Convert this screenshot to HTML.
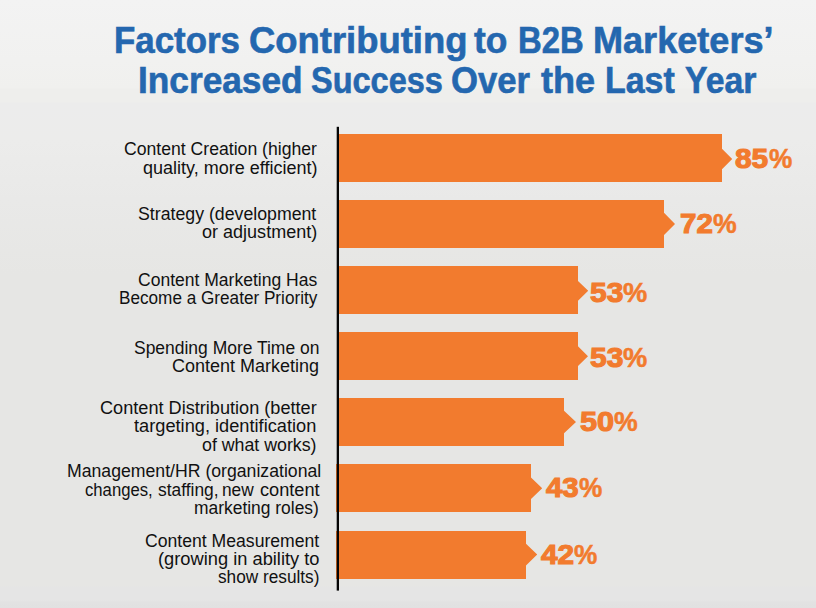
<!DOCTYPE html>
<html><head><meta charset="utf-8"><title>Factors Contributing to B2B Marketers' Increased Success</title>
<style>
html,body{margin:0;padding:0}
body{width:816px;height:608px;overflow:hidden;position:relative;background:#E6E6E4;font-family:"Liberation Sans",sans-serif}
#bg{position:absolute;left:0;top:0;width:816px;height:608px;background:
 linear-gradient(to bottom,#F3F3F3 0px,#F1F1F0 60px,#F0F0EE 88px,#EEEEEC 89px,#EEEEEC 102px,#ECECEC 103px,#ECECEB 140px,#E9E9E8 200px,#E6E6E4 275px,#E6E6E4 586px,#E5E5E5 587px,#E5E5E5 600px,#E2E2E2 602px,#E1E1E1 608px)}
span{position:absolute;white-space:nowrap;line-height:1;transform-origin:0 0}
.t{font:700 36px "Liberation Sans",sans-serif;color:#2467AF;-webkit-text-stroke:0.6px #2467AF;}
.l{font:400 17.5px "Liberation Sans",sans-serif;color:#111;}
.p{font:700 27px "Liberation Sans",sans-serif;color:#F27B2E;-webkit-text-stroke:1.1px #F27B2E;}
.q{font:700 27.6px "Liberation Sans",sans-serif;color:#F27B2E;-webkit-text-stroke:0.5px #F27B2E;}
svg{position:absolute;left:0;top:0}
</style></head><body>
<div id="bg"></div>
<svg width="816" height="608" viewBox="0 0 816 608">
<g fill="#F27B2E">
<path d="M339 134H722V148.65L732.20 158.95L722 169.25V182H339Z"/>
<path d="M339 200H664V212.80L675.00 223.90L664 235.00V248H339Z"/>
<path d="M339 266H578V280.90L588.20 290.80L578 300.70V314H339Z"/>
<path d="M339 332H578V346.30L588.00 356.20L578 366.10V380H339Z"/>
<path d="M339 398H564V410.80L576.00 422.05L564 433.30V446H339Z"/>
<path d="M336 464H531V477.45L542.20 488.20L531 498.95V512H336Z"/>
<path d="M336 531H526V543.75L537.20 554.60L526 565.45V579H336Z"/>
</g>
<rect x="336.7" y="126.8" width="2.3" height="463.8" fill="#050505"/>
</svg>
<span class="t" style="left:114.06px;top:19.55px;transform:scaleX(0.9688)">Factors</span>
<span class="t" style="left:248.54px;top:19.55px;transform:scaleX(1.0118)">Contributing</span>
<span class="t" style="left:474.15px;top:19.55px;transform:scaleX(0.9815)">to</span>
<span class="t" style="left:517.77px;top:19.55px;transform:scaleX(0.9135)">B2B</span>
<span class="t" style="left:593.40px;top:19.55px;transform:scaleX(1.0023)">Marketers&rsquo;</span>
<span class="t" style="left:138.04px;top:59.65px;transform:scaleX(0.9793)">Increased</span>
<span class="t" style="left:310.92px;top:59.65px;transform:scaleX(0.9026)">Success</span>
<span class="t" style="left:450.60px;top:59.65px;transform:scaleX(0.9640)">Over</span>
<span class="t" style="left:540.55px;top:59.65px;transform:scaleX(1.0028)">the</span>
<span class="t" style="left:604.82px;top:59.65px;transform:scaleX(0.9417)">Last</span>
<span class="t" style="left:684.87px;top:59.65px;transform:scaleX(0.9377)">Year</span>
<span class="l" style="left:123.79px;top:138.80px;transform:scaleX(1.0066)">Content Creation (higher</span>
<span class="l" style="left:142.93px;top:157.60px;transform:scaleX(1.0289)">quality, more efficient)</span>
<span class="l" style="left:138.09px;top:203.60px;transform:scaleX(1.0126)">Strategy (development</span>
<span class="l" style="left:202.23px;top:222.00px;transform:scaleX(1.0300)">or adjustment)</span>
<span class="l" style="left:137.80px;top:269.50px;transform:scaleX(1.0014)">Content Marketing Has</span>
<span class="l" style="left:118.73px;top:287.50px;transform:scaleX(0.9803)">Become a Greater Priority</span>
<span class="l" style="left:133.80px;top:337.60px;transform:scaleX(0.9976)">Spending More Time on</span>
<span class="l" style="left:172.37px;top:356.00px;transform:scaleX(1.0281)">Content Marketing</span>
<span class="l" style="left:100.16px;top:397.70px;transform:scaleX(1.0363)">Content Distribution (better</span>
<span class="l" style="left:134.44px;top:416.20px;transform:scaleX(1.0412)">targeting, identification</span>
<span class="l" style="left:202.44px;top:434.50px;transform:scaleX(1.0153)">of what works)</span>
<span class="l" style="left:66.79px;top:461.20px;transform:scaleX(1.0090)">Management/HR (organizational</span>
<span class="l" style="left:84.69px;top:479.70px;transform:scaleX(0.9527)">changes,</span>
<span class="l" style="left:157.60px;top:479.70px;transform:scaleX(0.9932)">staffing,</span>
<span class="l" style="left:222.06px;top:479.70px;transform:scaleX(0.9886)">new</span>
<span class="l" style="left:260.02px;top:479.70px;transform:scaleX(1.0389)">content</span>
<span class="l" style="left:194.46px;top:497.60px;transform:scaleX(0.9951)">marketing roles)</span>
<span class="l" style="left:144.99px;top:530.50px;transform:scaleX(1.0064)">Content Measurement</span>
<span class="l" style="left:158.26px;top:548.70px;transform:scaleX(1.0444)">(growing in ability to</span>
<span class="l" style="left:217.71px;top:567.00px;transform:scaleX(0.9842)">show results)</span>
<span class="p" style="left:734.62px;top:143.80px;transform:scaleX(1.1051)">85</span>
<span class="q" style="left:768.73px;top:143.05px;transform:scaleX(0.9489)">%</span>
<span class="p" style="left:680.05px;top:208.80px;transform:scaleX(1.0931)">72</span>
<span class="q" style="left:712.72px;top:208.05px;transform:scaleX(0.9660)">%</span>
<span class="p" style="left:589.52px;top:277.90px;transform:scaleX(1.1077)">53</span>
<span class="q" style="left:622.51px;top:277.15px;transform:scaleX(0.9872)">%</span>
<span class="p" style="left:589.52px;top:342.80px;transform:scaleX(1.1077)">53</span>
<span class="q" style="left:622.51px;top:342.05px;transform:scaleX(0.9872)">%</span>
<span class="p" style="left:579.52px;top:406.90px;transform:scaleX(1.1350)">50</span>
<span class="q" style="left:613.82px;top:406.15px;transform:scaleX(0.9660)">%</span>
<span class="p" style="left:546.17px;top:472.80px;transform:scaleX(1.0891)">43</span>
<span class="q" style="left:579.13px;top:472.05px;transform:scaleX(0.9489)">%</span>
<span class="p" style="left:541.18px;top:539.70px;transform:scaleX(1.1025)">42</span>
<span class="q" style="left:574.13px;top:538.95px;transform:scaleX(0.9489)">%</span>
</body></html>
